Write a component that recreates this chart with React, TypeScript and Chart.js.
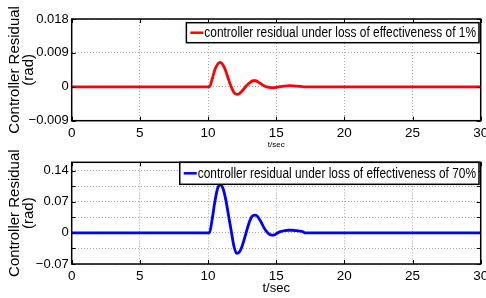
import React, { useEffect, useRef } from "react";
import { Chart, registerables } from "chart.js";

Chart.register(...registerables);

// ---- data ----
const timeTop = [0, 10, 10.1, 10.3, 10.5, 10.7, 10.9, 11.1, 11.3, 11.5, 11.7, 11.9, 12.1, 12.3, 12.5, 12.7, 12.9, 13.1, 13.3, 13.5, 13.7, 13.9, 14.1, 14.3, 14.6, 14.9, 15.2, 15.6, 16.0, 16.4, 16.8, 17.0, 30];
const residualTop = [0, 0, 0, 0.002, 0.0045, 0.006, 0.0065, 0.0058, 0.0042, 0.002, 0, -0.0015, -0.002, -0.0018, -0.0011, -0.0002, 0.0006, 0.0012, 0.0016, 0.0016, 0.0012, 0.0007, 0.0003, 0, -0.0002, -0.0002, 0, 0.0002, 0.0003, 0.0002, 0.0001, 0, 0];

const timeBottom = [0, 10, 10.1, 10.3, 10.5, 10.7, 10.9, 11.1, 11.3, 11.5, 11.7, 11.9, 12.1, 12.3, 12.5, 12.7, 12.9, 13.1, 13.3, 13.5, 13.7, 13.9, 14.1, 14.3, 14.5, 14.7, 14.9, 15.1, 15.3, 15.6, 15.9, 16.2, 16.5, 16.8, 17.0, 17.1, 30];
const residualBottom = [0, 0, 0, 0.03, 0.07, 0.1, 0.108, 0.1, 0.075, 0.04, 0.005, -0.03, -0.046, -0.043, -0.03, -0.01, 0.012, 0.03, 0.039, 0.04, 0.034, 0.024, 0.012, 0.003, -0.003, -0.005, -0.004, 0, 0.003, 0.005, 0.006, 0.006, 0.005, 0.004, 0.002, 0, 0];

const xTicks = [0, 5, 10, 15, 20, 25, 30];
const xTickLabels = ["0", "5", "10", "15", "20", "25", "30"];
const yTicksTop = [-0.009, 0, 0.009, 0.018];
const yTickLabelsTop = ["\u22120.009", "0", "0.009", "0.018"];
const yTicksBottom = [-0.07, -0.035, 0, 0.035, 0.07, 0.105, 0.14];
const yTickLabelsBottom = ["\u22120.07", "", "0", "", "0.07", "", "0.14"];

const legendTop = "controller residual under loss of effectiveness of 1%";
const legendBottom = "controller residual under loss of effectiveness of 70%";
const yTitle = ["Controller Residual", "(rad)"];
const xTitle = "t/sec";

const REG = "'Liberation Sans', Arial, Helvetica, sans-serif";
const CANVAS_W = 510;

function labelFor(values: number[], labels: string[], v: number) {
  for (let i = 0; i < values.length; i++) {
    if (Math.abs(values[i] - v) < 1e-9) return labels[i];
  }
  return "";
}

const framePlugin = {
  id: "framePlugin",
  afterDatasetsDraw(chart: any, _args: any, opts: any) {
    const { ctx, chartArea: a, scales } = chart;
    ctx.save();
    ctx.strokeStyle = "#000";
    ctx.lineWidth = 1;
    // inward tick marks
    const tl = 4;
    ctx.beginPath();
    for (const t of opts.xTicks) {
      const px = Math.round(scales.x.getPixelForValue(t)) + 0.5;
      ctx.moveTo(px, a.bottom);
      ctx.lineTo(px, a.bottom - tl);
      ctx.moveTo(px, a.top);
      ctx.lineTo(px, a.top + tl);
    }
    for (const t of opts.yTicks) {
      const py = Math.round(scales.y.getPixelForValue(t)) + 0.5;
      ctx.moveTo(a.left, py);
      ctx.lineTo(a.left + tl, py);
      ctx.moveTo(a.right, py);
      ctx.lineTo(a.right - tl, py);
    }
    ctx.stroke();
    // legend box (condensed text like Helvetica Narrow)
    const sx = opts.condense;
    ctx.font = opts.font;
    const tw = ctx.measureText(opts.text).width * sx;
    const right = a.right - opts.rightGap;
    const top = a.top + opts.topGap;
    const h = opts.boxHeight;
    const left = right - tw - 21;
    ctx.fillStyle = "#fff";
    ctx.fillRect(left, top, right - left, h);
    ctx.lineWidth = 1.5;
    ctx.strokeRect(left, top, right - left, h);
    ctx.strokeStyle = opts.color;
    ctx.lineWidth = 2.5;
    ctx.beginPath();
    ctx.moveTo(left + 4, top + h / 2);
    ctx.lineTo(left + 17, top + h / 2);
    ctx.stroke();
    ctx.fillStyle = "#000";
    ctx.textBaseline = "middle";
    ctx.textAlign = "left";
    ctx.save();
    ctx.translate(left + 18, top + h / 2 + 0.5);
    ctx.scale(sx, 1);
    ctx.fillText(opts.text, 0, 0);
    ctx.restore();
    // frame
    ctx.strokeStyle = "#000";
    ctx.lineWidth = 1.5;
    ctx.strokeRect(a.left, a.top, a.right - a.left, a.bottom - a.top);
    ctx.restore();
  },
};

type Cfg = {
  time: number[];
  values: number[];
  color: string;
  yMin: number;
  yMax: number;
  yTicks: number[];
  yLabels: string[];
  legend: string;
  padTop: number;
  xAxisHeight: number;
  xTitleSize: number;
  xTitlePad: number;
  legendTopGap: number;
  legendHeight: number;
  legendFont: string;
};

function Panel({ cfg, height, top }: { cfg: Cfg; height: number; top: number }) {
  const ref = useRef<HTMLCanvasElement | null>(null);
  useEffect(() => {
    if (!ref.current) return;
    const chart = new Chart(ref.current, {
      type: "line",
      data: {
        datasets: [
          {
            data: cfg.time.map((t, i) => ({ x: t, y: cfg.values[i] })),
            borderColor: cfg.color,
            borderWidth: 2.8,
            pointRadius: 0,
            cubicInterpolationMode: "monotone",
            fill: false,
          },
        ],
      },
      options: {
        animation: false,
        responsive: false,
        devicePixelRatio: 1,
        layout: { autoPadding: false, padding: { left: 0, right: CANVAS_W - 480.7, top: cfg.padTop, bottom: 0 } },
        plugins: {
          legend: { display: false },
          tooltip: { enabled: false },
          framePlugin: {
            xTicks,
            yTicks: cfg.yTicks,
            text: cfg.legend,
            color: cfg.color,
            font: cfg.legendFont,
            condense: 0.85,
            rightGap: 1.7,
            topGap: cfg.legendTopGap,
            boxHeight: cfg.legendHeight,
          },
        } as any,
        scales: {
          x: {
            type: "linear",
            min: 0,
            max: 30,
            afterBuildTicks: (s: any) => {
              s.ticks = xTicks.map((v) => ({ value: v }));
            },
            afterFit: (s: any) => {
              s.height = cfg.xAxisHeight;
            },
            ticks: {
              padding: 4,
              color: "#000",
              maxRotation: 0,
              autoSkip: false,
              font: { family: REG, size: 13.5 },
              callback: (v: any) => labelFor(xTicks, xTickLabels, Number(v)),
            },
            grid: { color: "#a8a8a8", lineWidth: 1, drawTicks: false },
            border: { display: false, dash: [1, 2] },
            title: {
              display: true,
              text: xTitle,
              color: "#000",
              font: { family: REG, size: cfg.xTitleSize, lineHeight: 1.2 },
              padding: { top: 0, bottom: cfg.xTitlePad },
            },
          },
          y: {
            type: "linear",
            min: cfg.yMin,
            max: cfg.yMax,
            afterBuildTicks: (s: any) => {
              s.ticks = cfg.yTicks.map((v) => ({ value: v }));
            },
            afterFit: (s: any) => {
              s.width = 71.7;
            },
            ticks: {
              padding: 3,
              color: "#000",
              autoSkip: false,
              font: { family: REG, size: 13 },
              callback: (v: any) => labelFor(cfg.yTicks, cfg.yLabels, Number(v)),
            },
            grid: { color: "#a8a8a8", lineWidth: 1, drawTicks: false },
            border: { display: false, dash: [1, 2] },
            title: {
              display: true,
              text: yTitle,
              color: "#000",
              font: { family: REG, size: 15, lineHeight: "14px" },
              padding: { top: 8, bottom: 0 },
            },
          },
        },
      },
      plugins: [framePlugin as any],
    });
    return () => chart.destroy();
  }, []);
  return (
    <canvas
      ref={ref}
      width={CANVAS_W}
      height={height}
      style={{ display: "block", position: "absolute", left: 0, top, width: CANVAS_W, height }}
    />
  );
}

const topCfg: Cfg = {
  time: timeTop,
  values: residualTop,
  color: "#ff0000",
  yMin: -0.009,
  yMax: 0.018,
  yTicks: yTicksTop,
  yLabels: yTickLabelsTop,
  legend: legendTop,
  padTop: 19,
  xAxisHeight: 150 - 120.7,
  xTitleSize: 8,
  xTitlePad: 0,
  legendTopGap: 3.7,
  legendHeight: 20,
  legendFont: "14px " + REG,
};

// bottom canvas starts at page y=136 so the long axis title is not cut
const bottomCfg: Cfg = {
  time: timeBottom,
  values: residualBottom,
  color: "#0000ff",
  yMin: -0.07,
  yMax: 0.159,
  yTicks: yTicksBottom,
  yLabels: yTickLabelsBottom,
  legend: legendBottom,
  padTop: 162.3 - 136,
  xAxisHeight: 298 - 264,
  xTitleSize: 13,
  xTitlePad: 1.6,
  legendTopGap: 0,
  legendHeight: 22,
  legendFont: "14px " + REG,
};

export default function App() {
  return (
    <div
      style={{
        position: "fixed",
        left: 0,
        top: 0,
        width: 486,
        height: 298,
        background: "#fff",
        overflow: "hidden",
      }}
    >
      <Panel cfg={topCfg} height={150} top={0} />
      <Panel cfg={bottomCfg} height={162} top={136} />
    </div>
  );
}
